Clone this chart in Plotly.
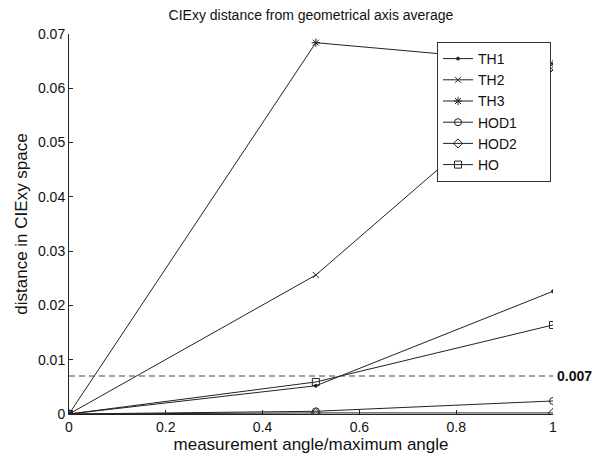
import plotly.graph_objects as go

x = [0, 0.51, 1]
series_names = ["TH1", "TH2", "TH3", "HOD1", "HOD2", "HO"]
th1 = [0, 0.0052, 0.0226]
th2 = [0, 0.0256, 0.0634]
th3 = [0, 0.0684, 0.0645]
hod1 = [0, 0.0005, 0.0024]
hod2 = [0, 0.0002, 0.0002]
ho = [0, 0.0059, 0.0164]
threshold = 0.007
threshold_label = "0.007"
x_ticks = [0, 0.2, 0.4, 0.6, 0.8, 1]
x_ticklabels = ["0", "0.2", "0.4", "0.6", "0.8", "1"]
y_ticks = [0, 0.01, 0.02, 0.03, 0.04, 0.05, 0.06, 0.07]
y_ticklabels = ["0", "0.01", "0.02", "0.03", "0.04", "0.05", "0.06", "0.07"]

values = [th1, th2, th3, hod1, hod2, ho]
symbols = ["circle", "x-thin", "asterisk", "circle-open", "diamond-open", "square-open"]
sizes = [3, 6, 7, 7, 7, 7]

fig = go.Figure()
for name, vals, sym, sz in zip(series_names, values, symbols, sizes):
    fig.add_trace(go.Scatter(
        x=x, y=vals, name=name + "\u00a0" * 7, mode="lines+markers",
        line=dict(color="#222222", width=1),
        marker=dict(symbol=sym, size=sz, color="#222222",
                    line=dict(color="#222222", width=1)),
    ))

fig.add_trace(go.Scatter(
    x=[0, 1], y=[threshold, threshold], mode="lines", showlegend=False,
    line=dict(color="#444444", width=1, dash="6px,4px"),
))

fig.add_annotation(x=1, y=threshold, xref="x", yref="y", text="<b>" + threshold_label + "</b>",
                   showarrow=False, xanchor="left", xshift=2,
                   font=dict(size=14, color="#111111"))

L, R, T, B = 69, 53, 34, 45
pw = 606 - L - R
ph = 459 - T - B
font_family = "Liberation Sans, Arial, sans-serif"
fig.update_layout(
    width=606, height=459,
    margin=dict(l=L, r=R, t=T, b=B, autoexpand=False),
    paper_bgcolor="white", plot_bgcolor="white",
    font=dict(family=font_family, size=14, color="#111111"),
    title=dict(text="CIExy distance from geometrical axis average",
               x=(L + L + pw) / 2 / 606, xanchor="center",
               y=1 - 15 / 459, yanchor="middle", yref="container",
               font=dict(size=14, color="#111111")),
    legend=dict(x=(437 - L) / pw, y=1 - (42 - T) / ph, xref="paper", yref="paper",
                xanchor="left", yanchor="top",
                bgcolor="white", bordercolor="#333333", borderwidth=1,
                font=dict(size=14), tracegroupgap=0, itemwidth=30),
    showlegend=True,
)
fig.update_xaxes(range=[0, 1], tickvals=x_ticks, ticktext=x_ticklabels,
                 showline=True, linecolor="#222222", linewidth=1, ticks="inside",
                 ticklen=4, tickcolor="#222222", showgrid=False, zeroline=False,
                 title=dict(text="measurement angle/maximum angle", standoff=2))
fig.update_yaxes(range=[0, 0.07], tickvals=y_ticks, ticktext=y_ticklabels,
                 showline=True, linecolor="#222222", linewidth=1, ticks="inside",
                 ticklen=4, tickcolor="#222222", showgrid=False, zeroline=False,
                 title=dict(text="distance in CIExy space", standoff=6))

fig.write_html("out.html")
